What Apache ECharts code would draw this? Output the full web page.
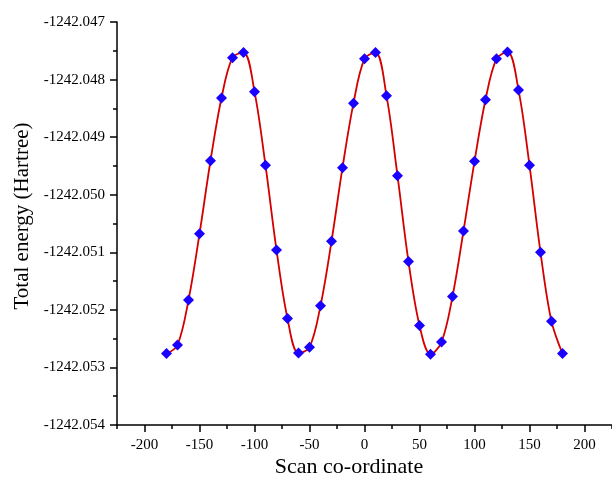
<!DOCTYPE html>
<html>
<head>
<meta charset="utf-8">
<script src="https://cdn.jsdelivr.net/npm/echarts@6/dist/echarts.min.js"></script>
<style>
  html, body { margin: 0; padding: 0; background: #fff; }
  #chart { width: 612px; height: 479px; }
</style>
</head>
<body>
<div id="chart"></div>
<script>
// Torsional scan: total energy vs scan co-ordinate
const scanAngles = [
  -180, -170, -160, -150, -140, -130, -120, -110, -100, -90,
  -80, -70, -60, -50, -40, -30, -20, -10, 0, 10,
  20, 30, 40, 50, 60, 70, 80, 90, 100, 110,
  120, 130, 140, 150, 160, 170, 180
];
const totalEnergy = [
  -1242.05276, -1242.05261, -1242.05183, -1242.05068, -1242.04941,
  -1242.04832, -1242.04762, -1242.04753, -1242.04821, -1242.04949,
  -1242.05096, -1242.05215, -1242.05275, -1242.05265, -1242.05193,
  -1242.05081, -1242.04953, -1242.04841, -1242.04764, -1242.04753,
  -1242.04828, -1242.04967, -1242.05116, -1242.05227, -1242.05277,
  -1242.05256, -1242.05177, -1242.05063, -1242.04942, -1242.04835,
  -1242.04764, -1242.04752, -1242.04818, -1242.04949, -1242.05100,
  -1242.05220, -1242.05276
];
const xMajorTicks = [-200, -150, -100, -50, 0, 50, 100, 150, 200];
const xMinorTicks = [-225, -175, -125, -75, -25, 25, 75, 125, 175, 225];
const yMajorTicks = [-1242.054, -1242.053, -1242.052, -1242.051, -1242.050, -1242.049, -1242.048, -1242.047];
const yMinorTicks = [-1242.0535, -1242.0525, -1242.0515, -1242.0505, -1242.0495, -1242.0485, -1242.0475];
const xTitle = 'Scan co-ordinate';
const yTitle = 'Total energy (Hartree)';

const xMin = -225, xMax = 225;
const yMin = -1242.054, yMax = -1242.047;

const FONT = '"Liberation Serif", "Times New Roman", serif';
const axisColor = '#000';

const chart = echarts.init(document.getElementById('chart'), null, { renderer: 'canvas' });

const points = scanAngles.map((x, i) => [x, totalEnergy[i]]);

chart.setOption({
  animation: false,
  backgroundColor: '#fff',
  grid: { left: 117, right: 0, top: 22, bottom: 54, containLabel: false },
  graphic: [
    {
      type: 'text', x: 349, y: 467, z: 10,
      style: { text: xTitle, font: '22px ' + FONT, fill: '#000', align: 'center', verticalAlign: 'middle' }
    },
    {
      type: 'text', x: 22, y: 216, rotation: Math.PI / 2, z: 10,
      style: { text: yTitle, font: '21px ' + FONT, fill: '#000', align: 'center', verticalAlign: 'middle' }
    }
  ],
  xAxis: [
    {
      type: 'value', min: xMin, max: xMax, position: 'bottom',
      axisLine: { show: true, onZero: false, lineStyle: { color: axisColor, width: 1.5 } },
      axisTick: { show: true, customValues: xMajorTicks, length: 7, lineStyle: { color: axisColor, width: 1.5 } },
      axisLabel: { show: true, customValues: xMajorTicks, fontFamily: FONT, fontSize: 15, color: '#000', margin: 13 },
      splitLine: { show: false }
    },
    {
      type: 'value', min: xMin, max: xMax, position: 'bottom',
      axisLine: { show: false, onZero: false },
      axisTick: { show: true, customValues: xMinorTicks, length: 4, lineStyle: { color: axisColor, width: 1.5 } },
      axisLabel: { show: false },
      splitLine: { show: false }
    }
  ],
  yAxis: [
    {
      type: 'value', min: yMin, max: yMax, position: 'left',
      axisLine: { show: true, onZero: false, lineStyle: { color: axisColor, width: 1.5 } },
      axisTick: { show: true, customValues: yMajorTicks, length: 7, lineStyle: { color: axisColor, width: 1.5 } },
      axisLabel: {
        show: true, customValues: yMajorTicks, fontFamily: FONT, fontSize: 15, color: '#000', margin: 12,
        formatter: v => v.toFixed(3)
      },
      splitLine: { show: false }
    },
    {
      type: 'value', min: yMin, max: yMax, position: 'left',
      axisLine: { show: false, onZero: false },
      axisTick: { show: true, customValues: yMinorTicks, length: 4, lineStyle: { color: axisColor, width: 1.5 } },
      axisLabel: { show: false },
      splitLine: { show: false }
    }
  ],
  series: [
    {
      type: 'line',
      xAxisIndex: 0, yAxisIndex: 0,
      data: points,
      smooth: 0.35,
      lineStyle: { color: '#d40000', width: 1.8 },
      symbol: 'diamond',
      symbolSize: 11,
      itemStyle: { color: '#1a00ff' },
      z: 3
    }
  ]
});
</script>
</body>
</html>
